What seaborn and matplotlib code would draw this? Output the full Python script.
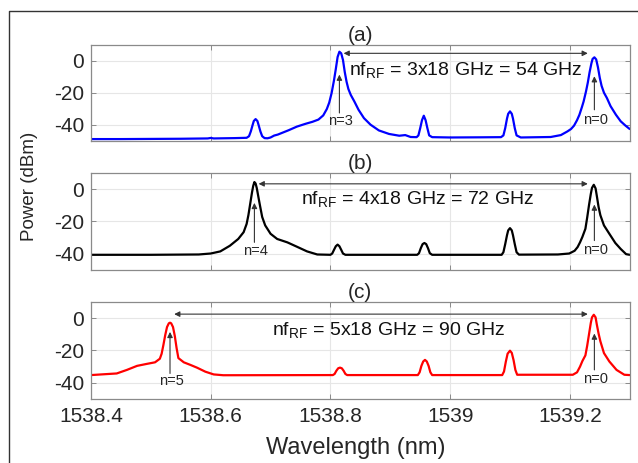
import numpy as np
import pandas as pd
import matplotlib
matplotlib.use("Agg")
import matplotlib.pyplot as plt
from matplotlib.lines import Line2D
import seaborn as sns

# ---- spectra (wavelength in nm, power in dBm) ----
wl_a = [1538.400, 1538.450, 1538.500, 1538.550, 1538.595, 1538.600, 1538.605, 1538.640,
        1538.660, 1538.664, 1538.667, 1538.670, 1538.672, 1538.675, 1538.678, 1538.680,
        1538.683, 1538.686, 1538.690, 1538.695, 1538.700, 1538.706, 1538.712, 1538.720,
        1538.730, 1538.744, 1538.758, 1538.770, 1538.780, 1538.788, 1538.794, 1538.798,
        1538.802, 1538.806, 1538.809, 1538.812, 1538.815, 1538.818, 1538.821, 1538.824,
        1538.827, 1538.830, 1538.834, 1538.840, 1538.847, 1538.856, 1538.867, 1538.881,
        1538.898, 1538.915, 1538.925, 1538.934, 1538.944, 1538.947, 1538.950, 1538.953,
        1538.956, 1538.959, 1538.962, 1538.965, 1538.970, 1539.000, 1539.050, 1539.085,
        1539.089, 1539.092, 1539.095, 1539.097, 1539.100, 1539.103, 1539.105, 1539.108,
        1539.111, 1539.118, 1539.168, 1539.185, 1539.196, 1539.202, 1539.207, 1539.212,
        1539.216, 1539.220, 1539.223, 1539.227, 1539.230, 1539.233, 1539.236, 1539.238,
        1539.241, 1539.244, 1539.247, 1539.250, 1539.253, 1539.257, 1539.262, 1539.268,
        1539.277, 1539.285, 1539.293, 1539.300]
pw_a = [-48.8, -48.8, -48.7, -48.6, -48.4, -48.1, -48.4, -48.2,
        -48.0, -47.0, -44.0, -40.0, -37.5, -36.3, -37.5, -40.0,
        -44.0, -47.0, -48.2, -48.3, -47.8, -46.6, -46.0, -44.8,
        -43.3, -41.0, -39.3, -38.0, -36.6, -34.0, -30.0, -26.0,
        -20.0, -12.0, -5.0, 2.5, 5.8, 4.8, 0.6, -7.0,
        -13.0, -17.5, -21.2, -25.3, -30.5, -35.7, -39.8, -43.4,
        -45.6, -46.7, -46.3, -47.5, -47.6, -46.5, -42.0, -37.0,
        -34.2, -37.0, -42.0, -46.5, -47.6, -47.8, -47.7, -47.6,
        -46.5, -42.0, -36.0, -33.0, -31.5, -33.0, -36.0, -42.0,
        -46.5, -47.8, -47.5, -46.3, -44.0, -42.5, -40.4, -37.0,
        -33.6, -29.0, -25.3, -19.0, -13.5, -7.0, -1.5, 1.3,
        2.3, 1.0, -4.0, -10.5, -15.5, -19.8, -23.2, -28.2,
        -33.6, -37.7, -40.4, -42.5]

wl_b = [1538.400, 1538.500, 1538.580, 1538.600, 1538.616, 1538.632, 1538.646, 1538.655,
        1538.660, 1538.663, 1538.666, 1538.669, 1538.671, 1538.673, 1538.675, 1538.677,
        1538.680, 1538.682, 1538.686, 1538.691, 1538.700, 1538.711, 1538.728, 1538.744,
        1538.761, 1538.778, 1538.800, 1538.803, 1538.806, 1538.809, 1538.812, 1538.815,
        1538.818, 1538.821, 1538.825, 1538.945, 1538.948, 1538.951, 1538.954, 1538.957,
        1538.960, 1538.963, 1538.966, 1538.970, 1539.086, 1539.089, 1539.092, 1539.095,
        1539.097, 1539.100, 1539.103, 1539.105, 1539.108, 1539.111, 1539.115, 1539.180,
        1539.199, 1539.208, 1539.213, 1539.217, 1539.221, 1539.226, 1539.229, 1539.232,
        1539.235, 1539.237, 1539.240, 1539.243, 1539.245, 1539.248, 1539.251, 1539.257,
        1539.266, 1539.276, 1539.285, 1539.294, 1539.300]
pw_b = [-40.6, -40.6, -40.4, -39.8, -38.5, -35.0, -30.8, -26.6,
        -21.5, -16.0, -9.0, -2.0, 2.0, 4.4, 3.5, 0.6,
        -5.5, -9.5, -17.2, -22.4, -27.6, -30.8, -32.9, -35.6,
        -38.5, -40.4, -40.6, -39.8, -37.5, -35.3, -34.3, -35.3,
        -37.5, -39.8, -40.6, -40.6, -39.6, -36.5, -34.0, -33.3,
        -34.0, -36.5, -39.6, -40.6, -40.6, -39.0, -34.0, -28.5,
        -25.5, -24.1, -25.5, -28.5, -34.0, -39.0, -40.5, -40.4,
        -39.8, -38.1, -35.8, -32.9, -29.5, -24.5, -17.5, -9.9,
        -3.0, 0.8, 2.7, 0.5, -4.0, -11.0, -16.1, -22.4,
        -27.6, -33.3, -37.0, -40.2, -40.6]

wl_c = [1538.400, 1538.443, 1538.460, 1538.477, 1538.493, 1538.507, 1538.515, 1538.518,
        1538.521, 1538.524, 1538.527, 1538.530, 1538.532, 1538.534, 1538.537, 1538.540,
        1538.543, 1538.546, 1538.555, 1538.566, 1538.577, 1538.591, 1538.605, 1538.621,
        1538.804, 1538.807, 1538.810, 1538.813, 1538.816, 1538.819, 1538.822, 1538.825,
        1538.828, 1538.946, 1538.949, 1538.952, 1538.955, 1538.958, 1538.961, 1538.964,
        1538.967, 1538.970, 1539.087, 1539.090, 1539.093, 1539.096, 1539.100, 1539.103,
        1539.106, 1539.109, 1539.112, 1539.205, 1539.212, 1539.217, 1539.221, 1539.226,
        1539.229, 1539.232, 1539.235, 1539.237, 1539.240, 1539.243, 1539.245, 1539.248,
        1539.251, 1539.257, 1539.266, 1539.278, 1539.291, 1539.300]
pw_c = [-35.2, -34.2, -32.0, -29.5, -28.3, -27.3, -25.1, -22.0,
        -16.5, -10.5, -5.5, -3.2, -2.8, -3.2, -5.5, -11.0,
        -18.5, -24.7, -27.3, -28.9, -30.6, -33.1, -34.8, -35.3,
        -35.2, -34.5, -32.5, -31.0, -30.6, -31.0, -32.5, -34.5,
        -35.2, -35.2, -33.5, -29.5, -26.8, -25.8, -26.8, -29.5,
        -33.5, -35.2, -35.2, -33.0, -27.0, -22.0, -20.1, -21.5,
        -26.0, -32.0, -35.0, -35.0, -33.5, -30.0, -26.5, -23.0,
        -17.0, -10.0, -3.0, 0.5, 2.1, 0.5, -3.8, -9.5,
        -14.3, -21.6, -26.8, -32.0, -35.0, -35.2]

panel_titles = ["(a)", "(b)", "(c)"]
line_colors = ["#0000ff", "#000000", "#ff0000"]
harmonic_n = [3, 4, 5]
sideband_wl = [1538.815, 1538.673, 1538.532]   # n-th sideband peak
carrier_wl = 1539.241                           # n = 0 peak
spacing_text = [r"nf$_{\mathrm{RF}}$ = 3x18 GHz = 54 GHz",
                r"nf$_{\mathrm{RF}}$ = 4x18 GHz = 72 GHz",
                r"nf$_{\mathrm{RF}}$ = 5x18 GHz = 90 GHz"]
x_ticks = [1538.4, 1538.6, 1538.8, 1539.0, 1539.2]
x_tick_labels = ["1538.4", "1538.6", "1538.8", "1539", "1539.2"]
y_ticks = [-40, -20, 0]

sns.set_theme(style="white")
plt.rcParams["font.family"] = ["Liberation Sans", "DejaVu Sans"]
plt.rcParams["mathtext.fontset"] = "custom"
plt.rcParams["mathtext.rm"] = "Liberation Sans"
plt.rcParams["mathtext.it"] = "Liberation Sans:italic"

W, H = 638, 463
fig = plt.figure(figsize=(W / 100, H / 100), dpi=100)
fig.patch.set_facecolor("white")

ax_left, ax_right = 91, 629.7
boxes = [(45, 141), (173, 270), (302, 399)]
dark = "#262626"
frame = "#8a8a8a"

frames = [pd.DataFrame({"wl": wl_a, "p": pw_a}),
          pd.DataFrame({"wl": wl_b, "p": pw_b}),
          pd.DataFrame({"wl": wl_c, "p": pw_c})]

# per-panel text/arrow layout: (text x, text baseline y, double-arrow y,
#  sideband label y, sideband arrow tail y, carrier label y, carrier arrow tail y)
layout = [(1539.026, -8.7, 4.8, -37.5, -32.5, -37.0, -30.5),
          (1538.946, -9.4, 3.3, -38.5, -32.9, -37.8, -31.8),
          (1538.898, -10.7, 2.5, -39.0, -34.2, -37.9, -32.0)]

axes = []
for i, (top, bot) in enumerate(boxes):
    ax = fig.add_axes([ax_left / W, 1 - bot / H, (ax_right - ax_left) / W, (bot - top) / H])
    axes.append(ax)
    sns.lineplot(data=frames[i], x="wl", y="p", ax=ax, color=line_colors[i],
                 linewidth=1.6, sort=False, estimator=None)
    ax.set_xlim(1538.4, 1539.3)
    ax.set_ylim(-50, 10)
    ax.set_xticks(x_ticks)
    ax.set_yticks(y_ticks)
    ax.set_yticklabels([str(v) for v in y_ticks])
    if i == 2:
        ax.set_xticklabels(x_tick_labels)
    else:
        ax.set_xticklabels([])
    ax.set_xlabel("")
    ax.set_ylabel("")
    ax.grid(True, color="#e6e6e6", linewidth=0.8)
    ax.set_axisbelow(True)
    for s in ax.spines.values():
        s.set_color(frame)
        s.set_linewidth(0.9)
        s.set_visible(True)
    ax.tick_params(direction="in", length=3.5, width=0.7, color=frame,
                   top=True, right=True, bottom=True, left=True,
                   labelcolor=dark)
    ax.tick_params(axis="x", labelsize=15, pad=6)
    ax.tick_params(axis="y", labelsize=15, pad=5)
    ax.set_title(panel_titles[i], fontsize=15, color=dark, pad=3)

    tx, ty, ay, sly, sty, cly, cty = layout[i]
    arrow_kw = dict(color="#333333", lw=0.8, shrinkA=0, shrinkB=0, mutation_scale=8)
    # spacing arrow between the n-th sideband and the carrier
    ax.annotate("", xy=(sideband_wl[i] + 0.007, ay), xytext=(carrier_wl - 0.011, ay),
                arrowprops=dict(arrowstyle="<|-|>", **arrow_kw))
    ax.text(tx, ty, spacing_text[i], fontsize=14, color="#111111",
            ha="center", va="baseline")
    # markers for the n-th sideband and the carrier
    ax.annotate("", xy=(sideband_wl[i], -8.5), xytext=(sideband_wl[i], sty),
                arrowprops=dict(arrowstyle="-|>", **arrow_kw))
    ax.text(sideband_wl[i] + 0.002, sly, f"n={harmonic_n[i]}", fontsize=10.5,
            color=dark, ha="center", va="center")
    ax.annotate("", xy=(carrier_wl, -9.5), xytext=(carrier_wl, cty),
                arrowprops=dict(arrowstyle="-|>", **arrow_kw))
    ax.text(carrier_wl + 0.002, cly, "n=0", fontsize=10.5,
            color=dark, ha="center", va="center")

fig.text(29.5 / W, 1 - 186 / H, "Power (dBm)", rotation=90, ha="center", va="center",
         fontsize=13.5, color=dark)
fig.text(356 / W, 1 - 454 / H, "Wavelength (nm)", ha="center", va="baseline",
         fontsize=17, color=dark)

# outer frame line (left and top)
fig.add_artist(Line2D([9 / W, 9 / W, 1.0], [0.0, 1 - 11 / H, 1 - 11 / H],
                      transform=fig.transFigure, color="#333333", linewidth=1.0))

fig.savefig("out.png", dpi=100, facecolor="white")
